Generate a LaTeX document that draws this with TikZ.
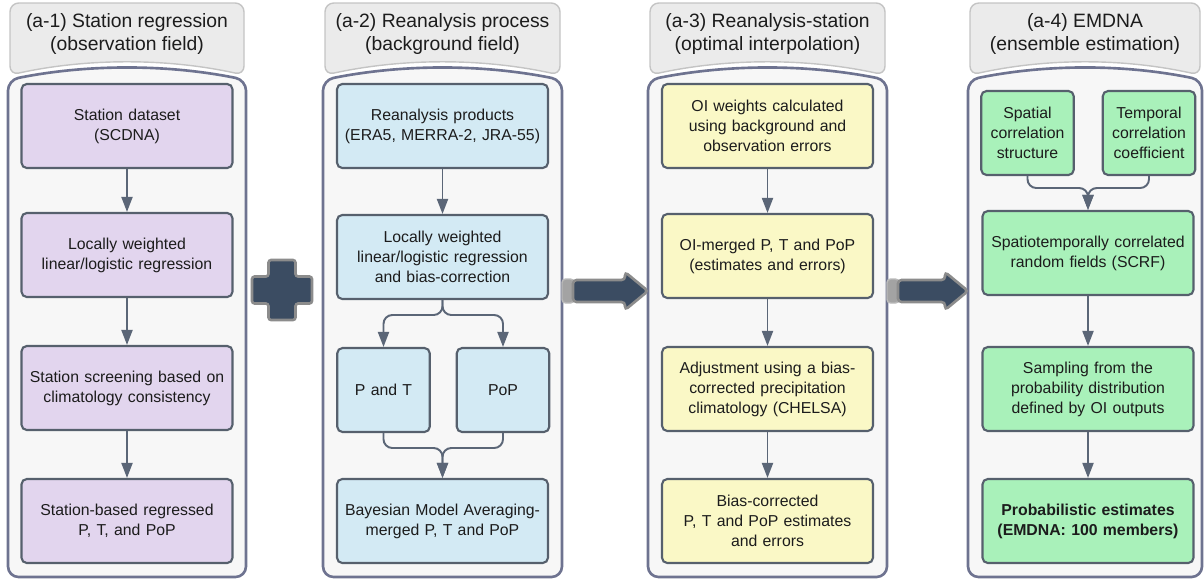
\documentclass[tikz,border=0pt]{standalone}
\usepackage{fontspec}
\setmainfont{Liberation Sans}
\usepackage{tikz}
\usetikzlibrary{arrows.meta,positioning,calc}
\definecolor{emdnaInk}{HTML}{1C1C1C}
\definecolor{emdnaEdge}{HTML}{56606D}
\definecolor{emdnaFlow}{HTML}{5B6677}
\definecolor{emdnaHead}{HTML}{EBEBEB}
\definecolor{emdnaHeadEdge}{HTML}{C4C4C4}
\definecolor{emdnaPanel}{HTML}{F7F7F7}
\definecolor{emdnaPanelEdge}{HTML}{6E7390}
\definecolor{emdnaPurple}{HTML}{E2D5EE}
\definecolor{emdnaBlue}{HTML}{D3EAF4}
\definecolor{emdnaYellow}{HTML}{FAF8C6}
\definecolor{emdnaGreen}{HTML}{A9F1BA}
\definecolor{emdnaDark}{HTML}{3B4C62}
\definecolor{emdnaGrey}{HTML}{8C8C8C}
\definecolor{emdnaTail}{HTML}{A3A3A3}
\tikzset{
  stepBox/.style={
    rectangle,
    rounded corners=3pt,
    draw=emdnaEdge,
    line width=1.2pt,
    minimum width=4.22cm,
    minimum height=1.68cm,
    inner sep=0pt,
    align=center,
    text width=4.0cm,
    text=emdnaInk,
    font=\fontsize{9}{11.4}\selectfont
  },
  smallBox/.style={
    stepBox,
    minimum width=1.85cm,
    text width=1.7cm
  },
  flow/.style={
    -{Triangle[length=3mm,width=2.2mm]},
    line width=1.1pt,
    draw=emdnaFlow,
    rounded corners=5pt
  },
  headPanel/.style={
    fill=emdnaHead,
    draw=emdnaHeadEdge,
    line width=0.8pt,
    rounded corners=5pt
  },
  bodyPanel/.style={
    fill=emdnaPanel,
    draw=emdnaPanelEdge,
    line width=1.5pt,
    rounded corners=6pt
  },
  headText/.style={
    align=center,
    text=emdnaInk,
    font=\fontsize{11}{13.1}\selectfont
  },
  bigShape/.style={
    fill=emdnaDark,
    draw=emdnaGrey,
    line width=1.5pt,
    rounded corners=2pt
  },
  tailCap/.style={
    fill=emdnaTail,
    draw=emdnaGrey!60,
    line width=0.8pt,
    rounded corners=2pt
  }
}

\begin{document}
\begin{tikzpicture}[x=0.2mm,y=-0.2mm]
  \useasboundingbox (0,0) rectangle (1204,579);
  % column frames
  \draw[headPanel] (127,3) -- (244,3) -- (244,75) .. controls (167,58) and (87,58) .. (10,75) -- (10,3) -- cycle;
  \draw[bodyPanel] (8,80) .. controls (87,64) and (167,64) .. (246,80) -- (246,577) -- (8,577) -- cycle;
  \draw[headPanel] (442.5,3) -- (560,3) -- (560,75) .. controls (482,58) and (403,58) .. (325,75) -- (325,3) -- cycle;
  \draw[bodyPanel] (323,80) .. controls (403,64) and (482,64) .. (562,80) -- (562,577) -- (323,577) -- cycle;
  \draw[headPanel] (767.5,3) -- (885,3) -- (885,75) .. controls (807,58) and (728,58) .. (650,75) -- (650,3) -- cycle;
  \draw[bodyPanel] (648,80) .. controls (728,64) and (807,64) .. (887,80) -- (887,577) -- (648,577) -- cycle;
  \draw[headPanel] (1085,3) -- (1200,3) -- (1200,75) .. controls (1123,58) and (1047,58) .. (970,75) -- (970,3) -- cycle;
  \draw[bodyPanel] (968,80) .. controls (1046,64) and (1124,64) .. (1202,80) -- (1202,577) -- (968,577) -- cycle;

  \node[headText] (head1) at (127,34) {(a-1) Station regression\\(observation field)};
  \node[headText] (head2) at (442.5,34) {(a-2) Reanalysis process\\(background field)};
  \node[headText] (head3) at (767.5,34) {(a-3) Reanalysis-station\\(optimal interpolation)};
  \node[headText] (head4) at (1085,34) {(a-4) EMDNA\\(ensemble estimation)};

  % (a-1)
  \node[stepBox,fill=emdnaPurple] (st1) at (127,126) {Station dataset\\(SCDNA)};
  \node[stepBox,fill=emdnaPurple] (st2) at (127,255) {Locally weighted\\linear/logistic regression};
  \node[stepBox,fill=emdnaPurple] (st3) at (127,388) {Station screening based on\\climatology consistency};
  \node[stepBox,fill=emdnaPurple] (st4) at (127,521) {Station-based regressed\\P, T, and PoP};
  \draw[flow] (st1) -- (st2);
  \draw[flow] (st2) -- (st3);
  \draw[flow] (st3) -- (st4);

  % (a-2)
  \node[stepBox,fill=emdnaBlue] (re1) at (442.5,126) {Reanalysis products\\(ERA5, MERRA-2, JRA-55)};
  \node[stepBox,fill=emdnaBlue] (re2) at (442.5,257) {Locally weighted\\linear/logistic regression\\and bias-correction};
  \node[smallBox,fill=emdnaBlue] (pt) at (383.5,390) {P and T};
  \node[smallBox,fill=emdnaBlue] (pop) at (503,390) {PoP};
  \node[stepBox,fill=emdnaBlue] (bma) at (442.5,521) {Bayesian Model Averaging-\\merged P, T and PoP};
  \coordinate (split2) at (442.5,315);
  \coordinate (merge2) at (442.5,448);
  \draw[flow] (re1) -- (re2);
  \draw[flow] (re2.south) -- (split2) -| (pt.north);
  \draw[flow] (re2.south) -- (split2) -| (pop.north);
  \draw[flow] (pt.south) |- (merge2) -- (bma.north);
  \draw[flow] (pop.south) |- (merge2) -- (bma.north);

  % (a-3)
  \node[stepBox,fill=emdnaYellow] (oi1) at (767.5,126) {OI weights calculated\\using background and\\observation errors};
  \node[stepBox,fill=emdnaYellow] (oi2) at (767.5,256) {OI-merged P, T and PoP\\(estimates and errors)};
  \node[stepBox,fill=emdnaYellow] (oi3) at (767.5,389) {Adjustment using a bias-\\corrected precipitation\\climatology (CHELSA)};
  \node[stepBox,fill=emdnaYellow] (oi4) at (767.5,521) {Bias-corrected\\P, T and PoP estimates\\and errors};
  \draw[flow] (oi1) -- (oi2);
  \draw[flow] (oi2) -- (oi3);
  \draw[flow] (oi3) -- (oi4);

  % (a-4)
  \node[smallBox,fill=emdnaGreen] (spat) at (1027.5,133) {Spatial\\correlation\\structure};
  \node[smallBox,fill=emdnaGreen] (temp) at (1149,133) {Temporal\\correlation\\coefficient};
  \node[stepBox,fill=emdnaGreen] (scrf) at (1088,253) {Spatiotemporally correlated\\random fields (SCRF)};
  \node[stepBox,fill=emdnaGreen] (samp) at (1088,389) {Sampling from the\\probability distribution\\defined by OI outputs};
  \node[stepBox,fill=emdnaGreen,font=\fontsize{9}{11.4}\selectfont\bfseries] (prob) at (1088,521) {Probabilistic estimates\\(EMDNA: 100 members)};
  \coordinate (merge4) at (1088,188);
  \draw[flow] (spat.south) |- (merge4) -- (scrf.north);
  \draw[flow] (temp.south) |- (merge4) -- (scrf.north);
  \draw[flow] (scrf) -- (samp);
  \draw[flow] (samp) -- (prob);

  % plus and block arrows
  \draw[bigShape,rounded corners=1.5pt] (268.5,260) -- (295.5,260) -- (295.5,276.5) -- (312,276.5) -- (312,303.5) -- (295.5,303.5) -- (295.5,320) -- (268.5,320) -- (268.5,303.5) -- (252,303.5) -- (252,276.5) -- (268.5,276.5) -- cycle;
  \draw[tailCap] (562,279) rectangle (574,303);
  \draw[bigShape] (573,280) -- (625,280) -- (625,272) -- (648,291) -- (625,310) -- (625,302) -- (573,302) -- cycle;
  \draw[tailCap] (887,279) rectangle (899,303);
  \draw[bigShape] (898,280) -- (945,280) -- (945,272) -- (968,291) -- (945,310) -- (945,302) -- (898,302) -- cycle;
\end{tikzpicture}
\end{document}
